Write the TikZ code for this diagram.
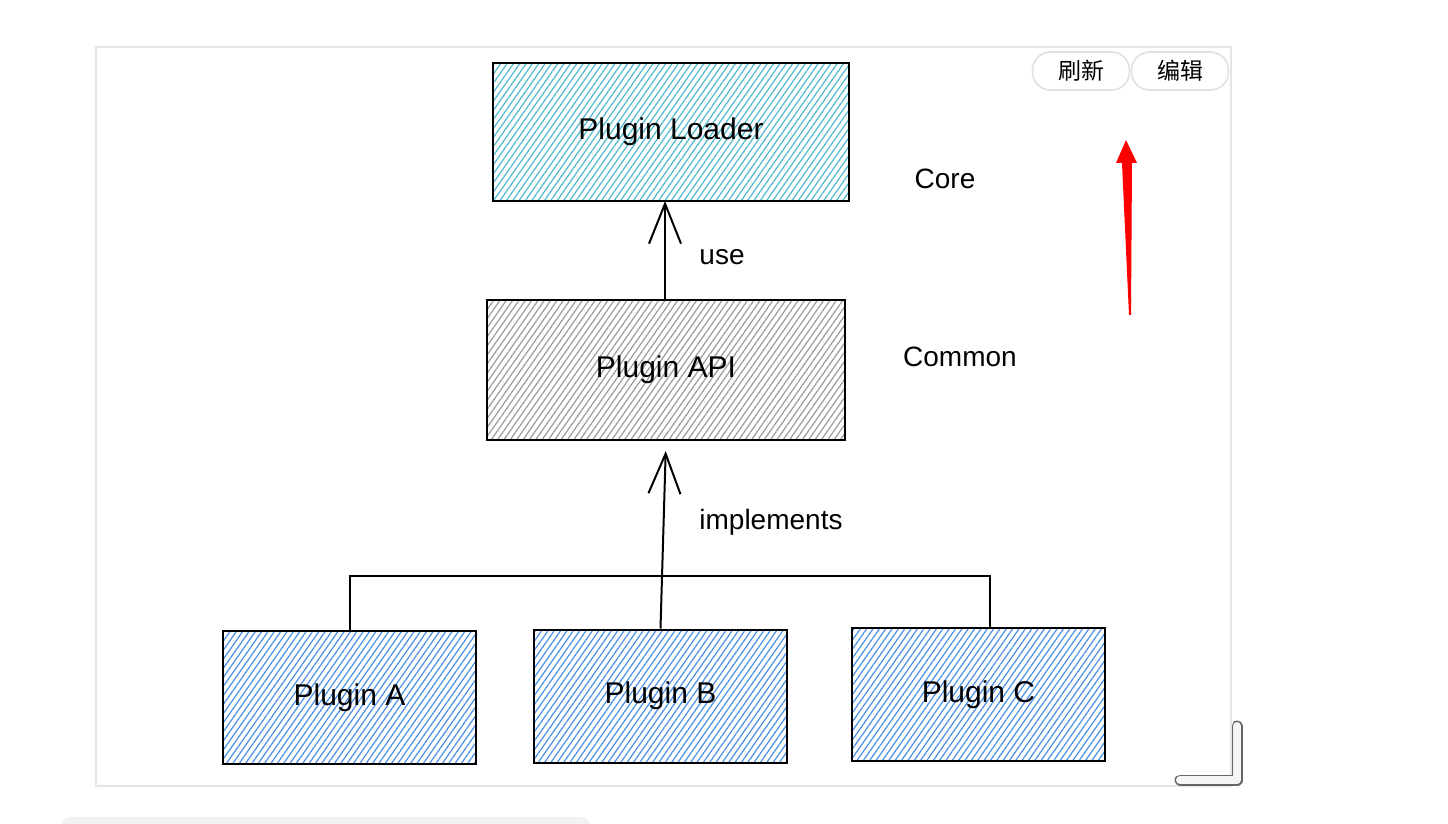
\documentclass[tikz,border=0pt]{standalone}
\usepackage{fontspec}
\setmainfont{Liberation Sans}
\newfontfamily\cjk{Noto Sans CJK SC}
\usetikzlibrary{arrows.meta,patterns.meta,positioning}

\definecolor{coreblue}{HTML}{4DB8CC}
\definecolor{apigrey}{HTML}{9A9A9A}
\definecolor{plugblue}{HTML}{4A8FE6}

\tikzset{
  layer/.style={draw=black, line width=1pt, font=\fontsize{15}{18}\selectfont,
    pattern={Lines[angle=55,distance=2.6pt,line width=0.6pt]}},
  plugbox/.style={layer, pattern color=plugblue, minimum width=126.5pt, minimum height=66.5pt},
  tag/.style={font=\fontsize{14}{17}\selectfont},
  flow/.style={line width=1pt, -{Straight Barb[length=20pt,width=16pt,line width=1pt]}},
  btn/.style={draw=black!12, line width=0.8pt, rounded corners=9pt, minimum width=48.5pt,
    minimum height=19pt, font=\cjk\fontsize{11.5}{13}\selectfont}
}

\begin{document}
\begin{tikzpicture}[x=0.5pt, y=-0.5pt]
\useasboundingbox (0,0) rectangle (1448,824);
% frame of the embedded diagram
\draw[draw=black!10, line width=0.6pt] (96,47) rectangle (1231,786);
\fill[black!5, rounded corners=4pt] (62,817) rectangle (590,840);

% layers
\node[layer, pattern color=coreblue, minimum width=178pt, minimum height=69pt] (loader) at (671,132) {Plugin Loader};
\node[layer, pattern color=apigrey, minimum width=179pt, minimum height=70pt] (api) at (666,370) {Plugin API};
\node[plugbox] (pa) at (349.5,697.5) {Plugin A};
\node[plugbox] (pb) at (660.5,696) {Plugin B};
\node[plugbox] (pc) at (978.5,694.5) {Plugin C};

% connectors
\draw[flow] (api.north -| 665,0) -- (665,201);
\coordinate (busR) at (990,576);
\draw[line width=1pt] (pa.north) |- (busR) -- (busR |- pc.north);
\draw[flow, shorten >=5pt] (pb.north) -- (api.south);

% labels
\node[tag] (use) at (722,257) {use};
\node[tag] (impl) at (771,522) {implements};
\node[tag] (core) at (945,179) {Core};
\node[tag] (common) at (960,357) {Common};

% toolbar
\node[btn] (refresh) at (1081,71) {刷新};
\node[btn] (edit) at (1180,71) {编辑};

% red arrow
\fill[red] (1129,315) -- (1131,315) -- (1132,163) -- (1137,163) -- (1126,140)
  -- (1116,163) -- (1122,163) -- cycle;

% resize handle
\draw[black!60, line width=5.5pt, line cap=round, line join=round] (1237,726) -- (1237,780) -- (1180,780);
\draw[black!4, line width=4pt, line cap=round, line join=round] (1237,726) -- (1237,780) -- (1180,780);
\end{tikzpicture}
\end{document}
